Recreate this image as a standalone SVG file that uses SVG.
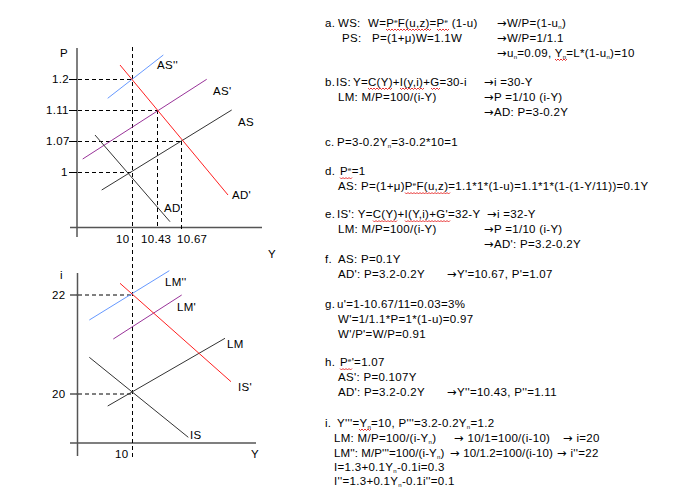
<svg xmlns="http://www.w3.org/2000/svg" width="678" height="504" viewBox="0 0 678 504">
<style>
text{font-family:"Liberation Sans",Arial,sans-serif;font-size:11.5px;letter-spacing:0.3px;fill:#000}
.ar{font-family:"DejaVu Sans",sans-serif;font-size:11.5px;letter-spacing:0.3px}
.tight{letter-spacing:0.1px}
.ax{stroke:#555;stroke-width:1.5;fill:none}
.tk{stroke:#000;stroke-width:1;fill:none}
.dash{stroke:#000;stroke-width:1;stroke-dasharray:4,3;fill:none}
.red{stroke:#ff2020;stroke-width:1;fill:none}
.blue{stroke:#6699ff;stroke-width:1;fill:none}
.pur{stroke:#993399;stroke-width:1;fill:none}
.blk{stroke:#333;stroke-width:1;fill:none}
.sq{stroke:#e00000;stroke-width:0.8;fill:none}
.s{font-size:6px;letter-spacing:0.3px}
</style>
<rect width="678" height="504" fill="#fff"/>

<g id="upper-axes">
<line class="ax" x1="77" y1="48" x2="77" y2="237"/>
<line class="ax" x1="70" y1="227.5" x2="262" y2="227.5"/>
<text x="60" y="57">P</text>
<text x="52" y="83">1.2</text>
<text x="46" y="114">1.11</text>
<text x="46" y="145">1.07</text>
<text x="61" y="176">1</text>
<text x="116" y="243">10</text>
<text x="141" y="243">10.43</text>
<text x="177" y="243">10.67</text>
<text x="268" y="258">Y</text>
</g>

<g id="lower-axes">
<line class="ax" x1="77.5" y1="273" x2="77.5" y2="456"/>
<line class="ax" x1="70" y1="443" x2="256" y2="443"/>
<text x="60" y="279">i</text>
<text x="52" y="299">22</text>
<text x="52" y="398">20</text>
<text x="115" y="458">10</text>
<text x="251" y="458">Y</text>
</g>

<g id="connectors">
<line class="tk" x1="69" y1="79.5" x2="77" y2="79.5"/>
<line class="tk" x1="69" y1="110.5" x2="77" y2="110.5"/>
<line class="tk" x1="69" y1="141.5" x2="77" y2="141.5"/>
<line class="tk" x1="69" y1="172.5" x2="77" y2="172.5"/>
<line class="tk" x1="70" y1="295" x2="77" y2="295"/>
<line class="tk" x1="70" y1="394" x2="77" y2="394"/>
<line class="dash" x1="78" y1="79.5" x2="132" y2="79.5"/>
<line class="dash" x1="78" y1="110.5" x2="157" y2="110.5"/>
<line class="dash" x1="78" y1="141.5" x2="182" y2="141.5"/>
<line class="dash" x1="78" y1="172.5" x2="132" y2="172.5"/>
<line class="dash" x1="78" y1="295" x2="132" y2="295"/>
<line class="dash" x1="78" y1="394" x2="132" y2="394"/>
<line class="dash" x1="132.5" y1="47" x2="132.5" y2="460"/>
<line class="dash" x1="157.5" y1="110" x2="157.5" y2="228"/>
<line class="dash" x1="181.5" y1="141" x2="181.5" y2="230"/>
</g>

<g id="AS2"><line class="blue" x1="107.7" y1="98.3" x2="163.3" y2="55"/><text x="157" y="69">AS''</text></g>
<g id="AS1"><line class="pur" x1="82.7" y1="159" x2="206.7" y2="79.3"/><text x="213" y="95">AS'</text></g>
<g id="AS"><line class="blk" x1="101.7" y1="190" x2="231.7" y2="110"/><text x="238" y="126">AS</text></g>
<g id="AD1"><line class="red" x1="120" y1="65" x2="228" y2="195"/><text x="232" y="199">AD'</text></g>
<g id="AD"><line class="blk" x1="95" y1="135" x2="170" y2="221.7"/><text x="164" y="212">AD</text></g>

<g id="LM2"><line class="blue" x1="89.3" y1="320" x2="169.3" y2="270.7"/><text x="165" y="286">LM''</text></g>
<g id="LM1"><line class="pur" x1="113.3" y1="339" x2="181.7" y2="295"/><text x="177" y="311">LM'</text></g>
<g id="LM"><line class="blk" x1="107.7" y1="406" x2="225" y2="338.3"/><text x="227" y="348">LM</text></g>
<g id="IS1"><line class="red" x1="120" y1="283.3" x2="231" y2="381.7"/><text x="238" y="391">IS'</text></g>
<g id="IS"><line class="blk" x1="89.3" y1="357.3" x2="188.3" y2="437.3"/><text x="190" y="439">IS</text></g>

<g id="notes">
<text x="325" y="26.5">a.</text>
<text x="338" y="26.5">WS:</text>
<text x="368" y="26.5">W=P<tspan class="s" dy="-4">e</tspan><tspan dy="4">F(u,z)=P</tspan><tspan class="s" dy="-4">e</tspan><tspan dy="4"> (1-u)</tspan></text>
<text x="497" y="26.5"><tspan class="ar">→</tspan>W/P=(1-u<tspan class="s" dy="2">n</tspan><tspan dy="-2">)</tspan></text>
<text x="342" y="41.5">PS:</text>
<text x="372" y="41.5">P=(1+μ)W=1.1W</text>
<text x="497" y="41.5"><tspan class="ar">→</tspan>W/P=1/1.1</text>
<text x="497" y="56.5"><tspan class="ar">→</tspan>u<tspan class="s" dy="2">n</tspan><tspan dy="-2">=0.09, Y</tspan><tspan class="s" dy="2">n</tspan><tspan dy="-2">=L*(1-u</tspan><tspan class="s" dy="2">n</tspan><tspan dy="-2">)=10</tspan></text>

<text x="325" y="85.5">b.</text>
<text x="336" y="85.5">IS:</text>
<text x="353" y="85.5">Y=C(Y)+I(y,i)+G=30-i</text>
<text x="484" y="85.5"><tspan class="ar">→</tspan>i =30-Y</text>
<text x="338" y="100.5">LM: M/P=100/(i-Y)</text>
<text x="484" y="100.5"><tspan class="ar">→</tspan>P =1/10 (i-Y)</text>
<text x="484" y="115.5"><tspan class="ar">→</tspan>AD:  P=3-0.2Y</text>

<text x="325" y="145.5">c.</text>
<text x="337" y="145.5">P=3-0.2Y<tspan class="s" dy="2">n</tspan><tspan dy="-2">=3-0.2*10=1</tspan></text>

<text x="325" y="175">d.</text>
<text x="340" y="175">P<tspan class="s" dy="-4">e</tspan><tspan dy="4">=1</tspan></text>
<text x="338" y="190">AS: P=(1+μ)P<tspan class="s" dy="-4">e</tspan><tspan dy="4">F(u,z)=1.1*1*(1-u)=1.1*1*(1-(1-Y/11))=0.1Y</tspan></text>

<text x="325" y="218">e.</text>
<text x="337" y="218">IS': Y=C(Y)+I(Y,i)+G'=32-Y</text>
<text x="487" y="218"><tspan class="ar">→</tspan>i =32-Y</text>
<text x="338" y="233">LM:  M/P=100/(i-Y)</text>
<text x="484" y="233"><tspan class="ar">→</tspan>P =1/10 (i-Y)</text>
<text x="484" y="248"><tspan class="ar">→</tspan>AD':  P=3.2-0.2Y</text>
<text x="325" y="263">f.</text>
<text x="338" y="263">AS: P=0.1Y</text>
<text x="338" y="278">AD': P=3.2-0.2Y</text>
<text x="447" y="278"><tspan class="ar">→</tspan>Y'=10.67, P'=1.07</text>

<text x="325" y="308">g.</text>
<text x="337" y="308">u'=1-10.67/11=0.03=3%</text>
<text x="338" y="323">W'=1/1.1*P=1*(1-u)=0.97</text>
<text x="338" y="337.5">W'/P'=W/P=0.91</text>

<text x="325" y="366">h.</text>
<text x="340" y="366">P<tspan class="s" dy="-4">e</tspan><tspan dy="4">'=1.07</tspan></text>
<text x="338" y="381">AS': P=0.107Y</text>
<text x="338" y="396">AD': P=3.2-0.2Y</text>
<text x="447" y="396"><tspan class="ar">→</tspan>Y''=10.43, P''=1.11</text>

<text x="325" y="426.5">i.</text>
<text x="337" y="426.5">Y'''=Y<tspan class="s" dy="2">n</tspan><tspan dy="-2">=10, P'''=3.2-0.2Y</tspan><tspan class="s" dy="2">n</tspan><tspan dy="-2">=1.2</tspan></text>
<text x="334" y="441.5">LM: M/P=100/(i-Y<tspan class="s" dy="2">n</tspan><tspan dy="-2">)</tspan></text>
<text x="454" y="441.5"><tspan class="ar">→</tspan> 10/1=100/(i-10)</text>
<text x="563" y="441.5"><tspan class="ar">→</tspan> i=20</text>
<text x="334" y="456.5" class="tight">LM'': M/P'''=100/(i-Y<tspan class="s" dy="2">n</tspan><tspan dy="-2">)</tspan></text>
<text x="450" y="456.5" class="tight"><tspan class="ar">→</tspan> 10/1.2=100/(i-10)</text>
<text x="557" y="456.5"><tspan class="ar">→</tspan> i''=22</text>
<text x="334" y="471">I=1.3+0.1Y<tspan class="s" dy="2">n</tspan><tspan dy="-2">-0.1i=0.3</tspan></text>
<text x="334" y="485">I''=1.3+0.1Y<tspan class="s" dy="2">n</tspan><tspan dy="-2">-0.1i''=0.1</tspan></text>
</g>

<g id="spellcheck">
<path class="sq" d="M386 29 l1.5 1.5 l1.5 -1.5 l1.5 1.5 l1.5 -1.5 l1.5 1.5 l1.5 -1.5 l1.5 1.5 l1.5 -1.5"/>
<path class="sq" d="M398 29 l1.5 1.5 l1.5 -1.5 l1.5 1.5 l1.5 -1.5 l1.5 1.5 l1.5 -1.5 l1.5 1.5 l1.5 -1.5 l1.5 1.5 l1.5 -1.5 l1.5 1.5 l1.5 -1.5 l1.5 1.5 l1.5 -1.5 l1.5 1.5 l1.5 -1.5 l1.5 1.5 l1.5 -1.5 l1.5 1.5 l1.5 -1.5 l1.5 1.5 l1.5 -1.5"/>
<path class="sq" d="M437 29 l1.5 1.5 l1.5 -1.5 l1.5 1.5 l1.5 -1.5 l1.5 1.5 l1.5 -1.5 l1.5 1.5 l1.5 -1.5"/>
<path class="sq" d="M555 59 l1.5 1.5 l1.5 -1.5 l1.5 1.5 l1.5 -1.5 l1.5 1.5 l1.5 -1.5 l1.5 1.5 l1.5 -1.5"/>
<path class="sq" d="M368 88 l1.5 1.5 l1.5 -1.5 l1.5 1.5 l1.5 -1.5 l1.5 1.5 l1.5 -1.5 l1.5 1.5 l1.5 -1.5 l1.5 1.5 l1.5 -1.5 l1.5 1.5 l1.5 -1.5 l1.5 1.5 l1.5 -1.5 l1.5 1.5 l1.5 -1.5"/>
<path class="sq" d="M400 88 l1.5 1.5 l1.5 -1.5 l1.5 1.5 l1.5 -1.5 l1.5 1.5 l1.5 -1.5 l1.5 1.5 l1.5 -1.5 l1.5 1.5 l1.5 -1.5 l1.5 1.5 l1.5 -1.5 l1.5 1.5 l1.5 -1.5 l1.5 1.5 l1.5 -1.5"/>
<path class="sq" d="M431 88 l1.5 1.5 l1.5 -1.5 l1.5 1.5 l1.5 -1.5 l1.5 1.5 l1.5 -1.5"/>
<path class="sq" d="M340 177.5 l1.5 1.5 l1.5 -1.5 l1.5 1.5 l1.5 -1.5 l1.5 1.5 l1.5 -1.5 l1.5 1.5 l1.5 -1.5"/>
<path class="sq" d="M405 192.5 l1.5 1.5 l1.5 -1.5 l1.5 1.5 l1.5 -1.5 l1.5 1.5 l1.5 -1.5 l1.5 1.5 l1.5 -1.5 l1.5 1.5 l1.5 -1.5 l1.5 1.5 l1.5 -1.5 l1.5 1.5 l1.5 -1.5 l1.5 1.5 l1.5 -1.5 l1.5 1.5 l1.5 -1.5 l1.5 1.5 l1.5 -1.5 l1.5 1.5 l1.5 -1.5 l1.5 1.5 l1.5 -1.5 l1.5 1.5 l1.5 -1.5 l1.5 1.5 l1.5 -1.5 l1.5 1.5 l1.5 -1.5"/>
<path class="sq" d="M373 220.5 l1.5 1.5 l1.5 -1.5 l1.5 1.5 l1.5 -1.5 l1.5 1.5 l1.5 -1.5 l1.5 1.5 l1.5 -1.5 l1.5 1.5 l1.5 -1.5 l1.5 1.5 l1.5 -1.5 l1.5 1.5 l1.5 -1.5 l1.5 1.5 l1.5 -1.5"/>
<path class="sq" d="M405 220.5 l1.5 1.5 l1.5 -1.5 l1.5 1.5 l1.5 -1.5 l1.5 1.5 l1.5 -1.5 l1.5 1.5 l1.5 -1.5 l1.5 1.5 l1.5 -1.5 l1.5 1.5 l1.5 -1.5 l1.5 1.5 l1.5 -1.5 l1.5 1.5 l1.5 -1.5 l1.5 1.5 l1.5 -1.5 l1.5 1.5 l1.5 -1.5 l1.5 1.5 l1.5 -1.5 l1.5 1.5 l1.5 -1.5 l1.5 1.5 l1.5 -1.5 l1.5 1.5 l1.5 -1.5 l1.5 1.5 l1.5 -1.5"/>
<path class="sq" d="M340 368.5 l1.5 1.5 l1.5 -1.5 l1.5 1.5 l1.5 -1.5 l1.5 1.5 l1.5 -1.5 l1.5 1.5 l1.5 -1.5"/>
<path class="sq" d="M359 429 l1.5 1.5 l1.5 -1.5 l1.5 1.5 l1.5 -1.5 l1.5 1.5 l1.5 -1.5 l1.5 1.5 l1.5 -1.5"/>
</g>
</svg>
